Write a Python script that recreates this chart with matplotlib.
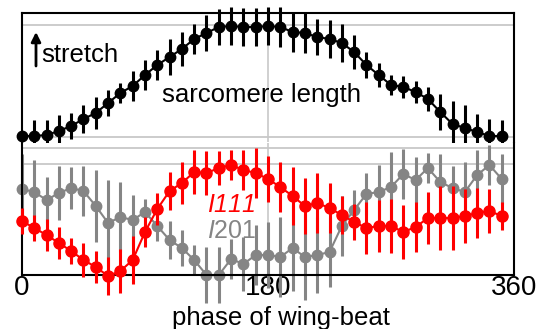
import matplotlib
matplotlib.use('Agg')
import matplotlib.pyplot as plt
import numpy as np

plt.rcParams['font.family'] = ['Liberation Sans', 'DejaVu Sans']
plt.rcParams['mathtext.fontset'] = 'custom'
plt.rcParams['mathtext.it'] = 'Liberation Sans:italic'
plt.rcParams['mathtext.rm'] = 'Liberation Sans'

# phase bins of wing-beat (degrees)
phase = np.arange(0, 360, 9)

# sarcomere length (arbitrary units) and error
sarc = [1, 1, 2, 6, 11, 18, 24, 34, 44, 51, 62, 72, 80, 88, 98, 104, 110, 111, 110, 110,
        111, 110, 105, 104, 100, 98, 94, 85, 72, 62, 52, 50, 45, 38, 25, 13, 9, 5, 1, 1]
sarc_err = [4, 16, 15, 16, 13, 14, 16, 13, 10, 15, 15, 15, 18, 17, 15, 18, 18, 19, 19, 19,
            19, 20, 20, 20, 18, 19, 19, 17, 13, 12, 10, 11, 11, 12, 18, 23, 23, 18, 17, 16]

# reflection intensities I111 (red) and I201 (grey)
i111 = [54, 47, 40, 32, 24, 15, 8, -1, 4, 15, 43, 66, 84, 92, 103, 102, 107, 110, 105, 102,
        96, 88, 79, 69, 72, 67, 60, 53, 47, 49, 49, 43, 48, 57, 57, 57, 59, 62, 64, 59]
i111_err = [13, 13, 16, 16, 13, 17, 16, 19, 22, 24, 15, 16, 19, 21, 22, 22, 17, 15, 20, 25,
            23, 25, 29, 28, 30, 25, 19, 18, 26, 26, 27, 27, 25, 26, 32, 32, 27, 25, 22, 14]
i201 = [86, 83, 75, 82, 87, 84, 69, 52, 58, 55, 63, 49, 35, 27, 15, 0, 0, 16, 11, 20,
        20, 18, 27, 18, 20, 23, 49, 65, 81, 83, 88, 101, 95, 107, 93, 87, 83, 100, 110, 96]
i201_err = [35, 32, 23, 27, 21, 25, 36, 43, 35, 25, 13, 15, 19, 18, 15, 28, 28, 20, 27, 30,
            33, 40, 43, 43, 38, 35, 30, 20, 21, 27, 35, 25, 23, 15, 28, 22, 30, 25, 20, 25]

xticks = [0, 180, 360]
RED = '#ff0000'
GREY = '#858585'
LIGHT = '#c8c8c8'

fig = plt.figure(figsize=(5.44, 3.29), dpi=100)
ax_top = fig.add_axes([0.0404, 0.5669, 0.9045, 0.3936])
ax_bot = fig.add_axes([0.0404, 0.1641, 0.9045, 0.4027])

# top panel: sarcomere length
ax_top.axhline(112, color=LIGHT, lw=1.3, zorder=0)
ax_top.axhline(0, color=LIGHT, lw=1.3, zorder=0)
ax_top.axvline(180, color=LIGHT, lw=1.2, zorder=0)
ax_top.errorbar(phase, sarc, yerr=sarc_err, color='black', lw=1.5, marker='o', ms=7.5,
                elinewidth=2.2, capsize=0, clip_on=False, zorder=3)
ax_top.set_xlim(0, 360)
ax_top.set_ylim(-5.5, 124)
ax_top.set_xticks([])
ax_top.set_yticks([])
ax_top.spines['bottom'].set_visible(False)
for s in ['top', 'left', 'right']:
    ax_top.spines[s].set_linewidth(1.5)

# bottom panel: intensities
ax_bot.axhline(127, color=LIGHT, lw=1.3, zorder=0)
ax_bot.axhline(111, color=LIGHT, lw=1.3, zorder=0)
ax_bot.axvline(180, color=LIGHT, lw=1.2, zorder=0)
ax_bot.errorbar(phase, i201, yerr=i201_err, color=GREY, lw=1.5, marker='o', ms=7.5,
                elinewidth=2.2, capsize=0, clip_on=False, zorder=2)
ax_bot.errorbar(phase, i111, yerr=i111_err, color=RED, lw=1.5, marker='o', ms=8,
                elinewidth=2.2, capsize=0, clip_on=False, zorder=3)
ax_bot.set_xlim(0, 360)
ax_bot.set_ylim(0, 132.5)
ax_bot.set_yticks([])
ax_bot.set_xticks(xticks)
ax_bot.set_xticklabels([str(t) for t in xticks], fontsize=20)
ax_bot.tick_params(axis='x', length=0, pad=0)
ax_bot.spines['top'].set_visible(False)
for s in ['bottom', 'left', 'right']:
    ax_bot.spines[s].set_linewidth(1.5)

# texts
fig.text(41 / 544, 1 - 62 / 329, 'stretch', fontsize=18.5, va='baseline', ha='left')
ax_top.annotate('', xy=(36 / 544, 1 - 32 / 329), xytext=(36 / 544, 1 - 66 / 329),
                xycoords='figure fraction', textcoords='figure fraction',
                arrowprops=dict(arrowstyle='-|>', color='black', lw=2,
                                mutation_scale=14, shrinkA=0, shrinkB=0))
fig.text(262 / 544, 1 - 102 / 329, 'sarcomere length', fontsize=18.5,
         va='baseline', ha='center')
fig.text(207 / 544, 1 - 212 / 329, r'$\mathit{I}$111', fontsize=18, color=RED,
         va='baseline', ha='left', style='italic')
fig.text(207 / 544, 1 - 238 / 329, r'$\mathit{I}$201', fontsize=18, color=GREY,
         va='baseline', ha='left')
fig.text(281 / 544, 1 - 325 / 329, 'phase of wing-beat', fontsize=18.5,
         va='baseline', ha='center')

fig.savefig('out.png', dpi=100)
